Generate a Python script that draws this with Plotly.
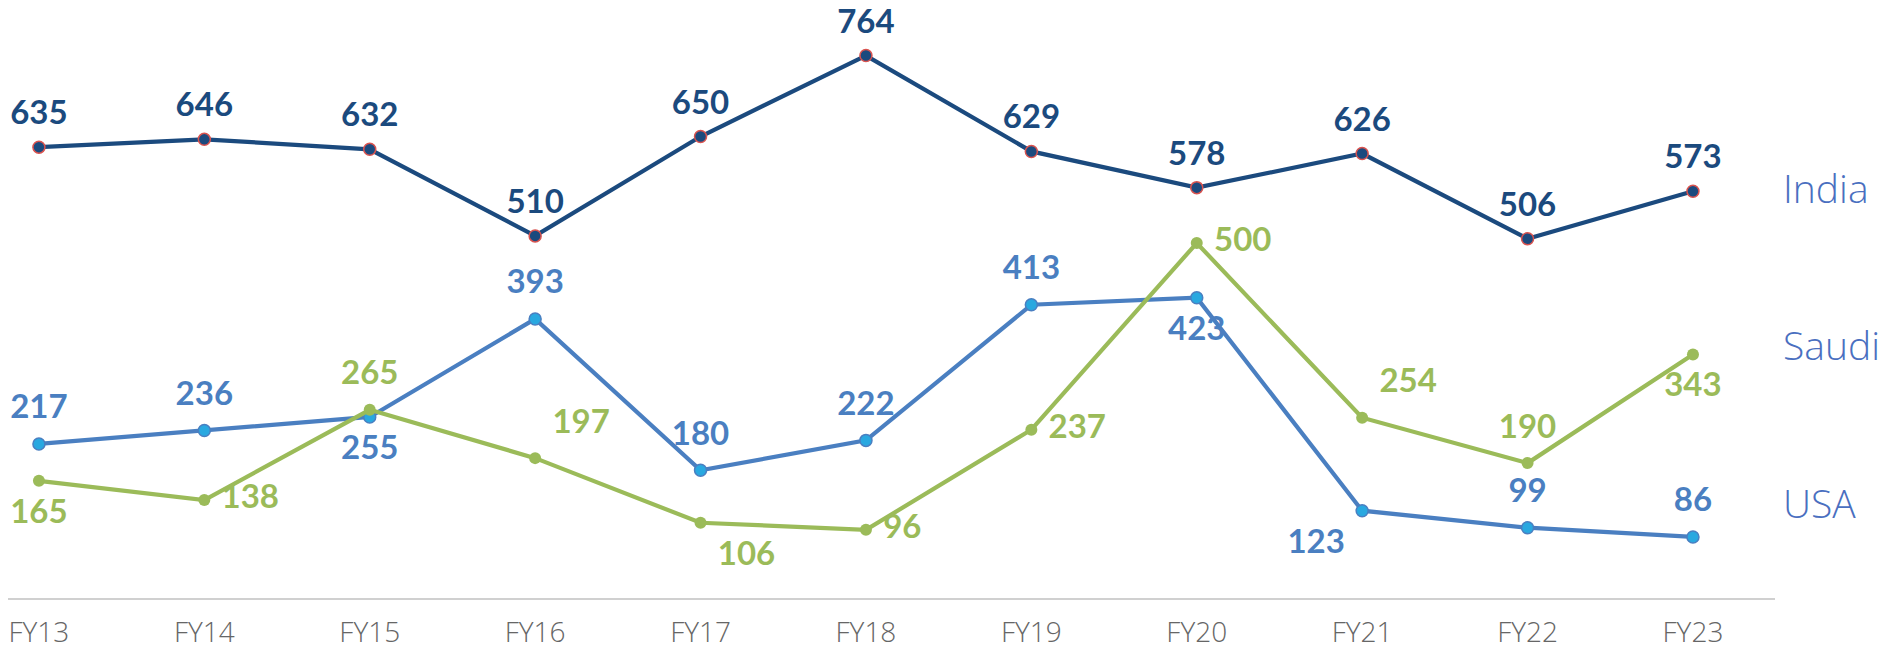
import plotly.graph_objects as go

years = ["FY13", "FY14", "FY15", "FY16", "FY17", "FY18", "FY19", "FY20", "FY21", "FY22", "FY23"]
india = [635, 646, 632, 510, 650, 764, 629, 578, 626, 506, 573]
usa = [217, 236, 255, 393, 180, 222, 413, 423, 123, 99, 86]
saudi = [165, 138, 265, 197, 106, 96, 237, 500, 254, 190, 343]

NAVY = "#1b4a7e"
BLUE = "#4a7fc1"
GREEN = "#9bbb59"
FONT = "Lato, sans-serif"
LIGHT_FONT = "Open Sans, sans-serif"

india_pos = ["top center"] * len(years)
usa_pos = ["top center", "top center", "bottom center", "top center", "top center", "top center",
           "top center", "bottom center", "bottom left", "top center", "top center"]
saudi_pos = ["bottom center", "middle right", "top center", "top right", "bottom right", "middle right",
             "middle right", "middle right", "top right", "top center", "bottom center"]

fig = go.Figure()


def add_series(name, values, color, marker, positions, gap=26):
    fig.add_trace(go.Scatter(
        x=years, y=values, name=name, mode="lines+markers",
        line=dict(color=color, width=4.2), marker=marker,
    ))
    # value labels: invisible big markers push the text away from the points
    fig.add_trace(go.Scatter(
        x=years, y=values, mode="markers+text", hoverinfo="skip", cliponaxis=False,
        marker=dict(size=gap, color="rgba(0,0,0,0)"),
        text=[str(v) for v in values], textposition=positions,
        textfont=dict(family=FONT, size=33, color=color, weight=700),
    ))


add_series("India", india, NAVY,
           dict(size=12, color=NAVY, line=dict(color="#d9534f", width=1.5)), india_pos, gap=22)
add_series("USA", usa, BLUE,
           dict(size=12, color="#29a8e0", line=dict(color=BLUE, width=1.5)), usa_pos)
add_series("Saudi", saudi, GREEN, dict(size=12, color=GREEN), saudi_pos)

for name, ypos in [("India", 0.695), ("Saudi", 0.43), ("USA", 0.162)]:
    fig.add_annotation(xref="paper", yref="paper", x=1, y=ypos, text=name, showarrow=False,
                       xanchor="left", yanchor="middle", xshift=6,
                       font=dict(family=LIGHT_FONT, size=39, color="#4a6fc0", weight=300))

fig.update_layout(
    width=1891, height=644,
    margin=dict(l=0, r=124, t=0, b=54),
    paper_bgcolor="white", plot_bgcolor="white",
    showlegend=False,
)
fig.update_xaxes(type="category", range=[-0.187, 10.496], showgrid=False, zeroline=False,
                 automargin=False,
                 showline=True, linecolor="#d0d0d0", linewidth=1.5,
                 ticks="", ticklabelstandoff=9,
                 tickfont=dict(family=LIGHT_FONT, size=28, color="#666666", weight=300))
fig.update_yaxes(range=[0, 831], visible=False, automargin=False)

fig.write_html("out.html")
